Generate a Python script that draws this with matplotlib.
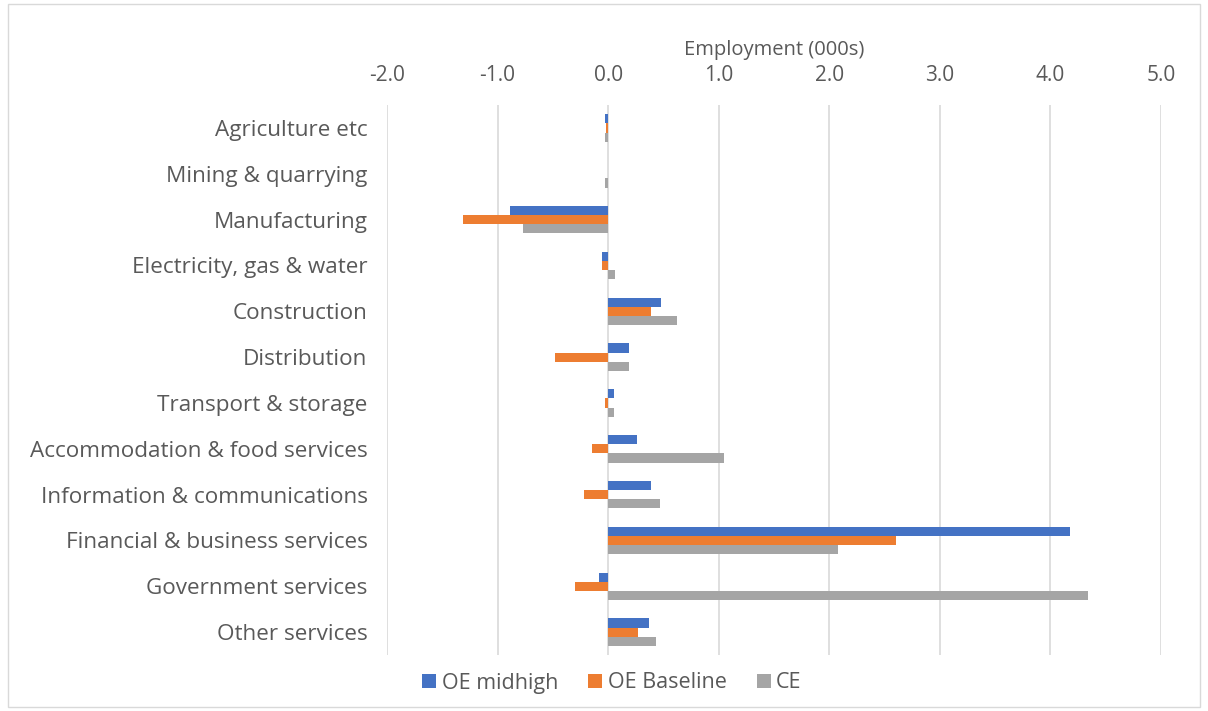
import numpy as np
import matplotlib.pyplot as plt
from matplotlib.patches import Rectangle

# === DATOS ===
sectores = ["Agriculture etc", "Mining & quarrying", "Manufacturing",
            "Electricity, gas & water", "Construction", "Distribution",
            "Transport & storage", "Accommodation & food services",
            "Information & communications", "Financial & business services",
            "Government services", "Other services"]
oe_midhigh = [-0.03, 0.0, -0.89, -0.06, 0.48, 0.19, 0.05, 0.26, 0.39, 4.18, -0.08, 0.37]
oe_baseline = [-0.02, 0.0, -1.31, -0.06, 0.39, -0.48, -0.03, -0.15, -0.22, 2.60, -0.30, 0.27]
ce = [-0.03, -0.03, -0.77, 0.06, 0.62, 0.19, 0.05, 1.05, 0.47, 2.08, 4.34, 0.43]
x_ticks = [-2.0, -1.0, 0.0, 1.0, 2.0, 3.0, 4.0, 5.0]

series = [("OE midhigh", oe_midhigh, "#4472C4"),
          ("OE Baseline", oe_baseline, "#ED7D31"),
          ("CE", ce, "#A5A5A5")]

txt = "#595959"
plt.rcParams["font.family"] = ["Open Sans", "DejaVu Sans"]

fig = plt.figure(figsize=(12.08, 7.11), dpi=100)
ax = fig.add_axes([387 / 1208, 1 - 655 / 711, (1161 - 387) / 1208, (655 - 105) / 711])

y = np.arange(len(sectores))
h = 0.2
for i, (nombre, vals, col) in enumerate(series):
    ax.barh(y + (i - 1) * h, vals, height=h, color=col, label=nombre, zorder=3)

ax.set_ylim(len(sectores) - 0.5, -0.5)
ax.set_xlim(-2.0, 5.0)
ax.set_xticks(x_ticks)
ax.set_xticklabels([f"{v:.1f}" for v in x_ticks])
ax.xaxis.tick_top()
ax.xaxis.set_label_position("top")
ax.set_xlabel("Employment (000s)", color=txt, fontsize=14.5, labelpad=7)
ax.set_yticks(y)
ax.set_yticklabels(sectores)
ax.tick_params(axis="both", length=0, colors=txt)
ax.tick_params(axis="x", pad=14, labelsize=15)
ax.tick_params(axis="y", pad=14, labelsize=16.2)
ax.grid(axis="x", color="#D9D9D9", linewidth=1.2, zorder=0)
for s in ax.spines.values():
    s.set_visible(False)

leg = fig.legend(loc="center", bbox_to_anchor=(612 / 1208, 1 - 683 / 711), ncol=3,
                 frameon=False, fontsize=15.5, handlelength=0.65, handleheight=0.65,
                 handletextpad=0.25, columnspacing=1.4, labelcolor=txt)

fig.patches.append(Rectangle((8 / 1208, 4 / 711), 1192 / 1208, 703 / 711,
                             transform=fig.transFigure, fill=False,
                             edgecolor="#D9D9D9", linewidth=1))

fig.savefig("out.png", dpi=100)
